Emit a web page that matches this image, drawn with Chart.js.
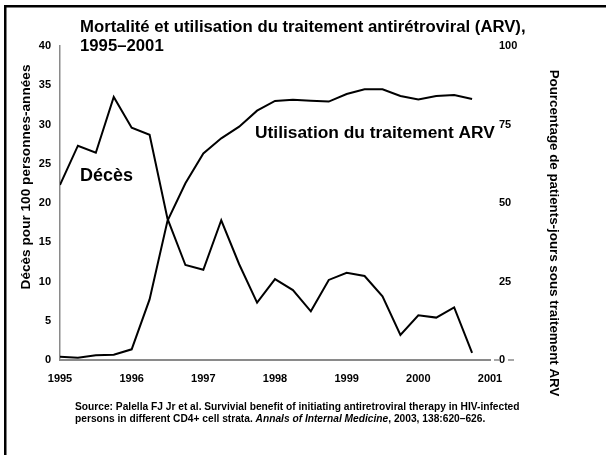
<!DOCTYPE html>
<html>
<head>
<meta charset="utf-8">
<script src="https://cdn.jsdelivr.net/npm/chart.js@4"></script>
<style>
html,body{margin:0;padding:0;background:#fff;}
#wrap{width:606px;height:455px;position:relative;}
</style>
</head>
<body>
<div id="wrap"><canvas id="c" width="606" height="455"></canvas></div>
<script>
// ---- Data ----
const quarters = [1995, 1995.25, 1995.5, 1995.75, 1996, 1996.25, 1996.5, 1996.75,
                  1997, 1997.25, 1997.5, 1997.75, 1998, 1998.25, 1998.5, 1998.75,
                  1999, 1999.25, 1999.5, 1999.75, 2000, 2000.25, 2000.5, 2000.75];
const deathRate = [22.3, 27.3, 26.4, 33.5, 29.6, 28.7, 18.0, 12.1,
                   11.5, 17.8, 12.2, 7.3, 10.3, 8.9, 6.2, 10.2,
                   11.1, 10.7, 8.1, 3.2, 5.7, 5.4, 6.7, 0.9];
const arvUse = [1.0, 0.7, 1.5, 1.7, 3.4, 19.3, 44.3, 56.3,
                65.8, 70.6, 74.3, 79.4, 82.5, 82.9, 82.6, 82.3,
                84.7, 86.2, 86.2, 84.1, 83.0, 84.1, 84.4, 83.1];
const yearTicks = [1995, 1996, 1997, 1998, 1999, 2000, 2001];

const titleLines = ["Mortalité et utilisation du traitement antirétroviral (ARV),", "1995–2001"];
const leftAxisTitle = "Décès pour 100 personnes-années";
const rightAxisTitle = "Pourcentage de patients-jours sous traitement ARV";
const deathLabel = "Décès";
const arvLabel = "Utilisation du traitement ARV";
const sourceLine1 = "Source: Palella FJ Jr et al. Survivial benefit of initiating antiretroviral therapy in HIV-infected";
const sourceLine2 = [["persons in different CD4+ cell strata. ", "normal"], ["Annals of Internal Medicine", "italic"], [", 2003, 138:620–626.", "normal"]];

const FAM = '"Liberation Sans", Arial, Helvetica, sans-serif';
const AXIS_GREY = '#8a8a8a';

function fitSize(ctx, text, style, targetW) {
  ctx.font = style + ' bold 20px ' + FAM;
  return 20 * targetW / ctx.measureText(text).width;
}

const decor = {
  id: 'decor',
  afterDraw(chart) {
    const ctx = chart.ctx;
    ctx.save();
    ctx.fillStyle = '#000';
    // frame (top and left)
    ctx.fillRect(4, 5, 602, 2.5);
    ctx.fillRect(4, 5, 2.5, 450);

    // title
    ctx.textBaseline = 'middle';
    ctx.textAlign = 'left';
    let ts = fitSize(ctx, titleLines[0], 'normal', 446);
    ctx.font = 'bold ' + ts.toFixed(2) + 'px ' + FAM;
    ctx.fillText(titleLines[0], 80, 27);
    ctx.fillText(titleLines[1], 80, 46);

    // series labels
    let ds = fitSize(ctx, deathLabel, 'normal', 53);
    ctx.font = 'bold ' + ds.toFixed(2) + 'px ' + FAM;
    ctx.fillText(deathLabel, 80, 176);
    let as = fitSize(ctx, arvLabel, 'normal', 240);
    ctx.font = 'bold ' + as.toFixed(2) + 'px ' + FAM;
    ctx.fillText(arvLabel, 255, 133);

    // axis titles
    ctx.textAlign = 'center';
    let ls = fitSize(ctx, leftAxisTitle, 'normal', 225);
    ctx.font = 'bold ' + ls.toFixed(2) + 'px ' + FAM;
    ctx.save();
    ctx.translate(26, 177);
    ctx.rotate(-Math.PI / 2);
    ctx.fillText(leftAxisTitle, 0, 0);
    ctx.restore();
    let rs = fitSize(ctx, rightAxisTitle, 'normal', 327);
    ctx.font = 'bold ' + rs.toFixed(2) + 'px ' + FAM;
    ctx.save();
    ctx.translate(554, 233);
    ctx.rotate(Math.PI / 2);
    ctx.fillText(rightAxisTitle, 0, 0);
    ctx.restore();

    // source
    ctx.textAlign = 'left';
    let ss = fitSize(ctx, sourceLine1, 'normal', 445);
    ctx.font = 'bold ' + ss.toFixed(2) + 'px ' + FAM;
    ctx.fillText(sourceLine1, 75, 407);
    let x = 75;
    for (const [txt, st] of sourceLine2) {
      ctx.font = st + ' bold ' + ss.toFixed(2) + 'px ' + FAM;
      ctx.fillText(txt, x, 419);
      x += ctx.measureText(txt).width;
    }

    // right-axis zero tick dashes
    const y0 = chart.scales.y1.getPixelForValue(0);
    ctx.strokeStyle = AXIS_GREY;
    ctx.lineWidth = 1.5;
    ctx.beginPath();
    ctx.moveTo(494, y0); ctx.lineTo(500, y0);
    ctx.moveTo(508, y0); ctx.lineTo(514, y0);
    ctx.stroke();
    ctx.restore();
  }
};

const tickFont = { family: FAM, size: 11, weight: 'bold' };

new Chart(document.getElementById('c'), {
  type: 'line',
  data: {
    datasets: [
      {
        label: deathLabel,
        data: quarters.map((q, i) => ({ x: q, y: deathRate[i] })),
        yAxisID: 'y',
        borderColor: '#000',
        borderWidth: 2,
        pointRadius: 0,
        tension: 0,
        fill: false
      },
      {
        label: arvLabel,
        data: quarters.map((q, i) => ({ x: q, y: arvUse[i] })),
        yAxisID: 'y1',
        borderColor: '#000',
        borderWidth: 2,
        pointRadius: 0,
        tension: 0,
        fill: false
      }
    ]
  },
  options: {
    responsive: false,
    animation: false,
    devicePixelRatio: 1,
    layout: { padding: { top: 46, left: 0, right: 0, bottom: 0 } },
    plugins: { legend: { display: false }, title: { display: false }, tooltip: { enabled: false } },
    scales: {
      x: {
        type: 'linear',
        position: 'bottom',
        min: yearTicks[0],
        max: yearTicks[yearTicks.length - 1],
        afterBuildTicks: (s) => { s.ticks = yearTicks.map(v => ({ value: v })); },
        ticks: { color: '#000', font: tickFont, padding: 12, maxRotation: 0, autoSkip: false,
                 callback: (v) => String(v) },
        grid: { display: false, drawTicks: false },
        border: { display: true, color: AXIS_GREY, width: 2 },
        afterFit: (s) => { s.height = 95; }
      },
      y: {
        type: 'linear',
        position: 'left',
        min: 0, max: 40,
        ticks: { stepSize: 5, color: '#000', font: tickFont, padding: 9 },
        grid: { display: false, drawTicks: false },
        border: { display: true, color: AXIS_GREY, width: 1.5 },
        afterFit: (s) => { s.width = 60; }
      },
      y1: {
        type: 'linear',
        position: 'right',
        min: 0, max: 100,
        ticks: { stepSize: 25, color: '#000', font: tickFont, padding: 9 },
        grid: { display: false, drawTicks: false },
        border: { display: false },
        afterFit: (s) => { s.width = 116; }
      }
    }
  },
  plugins: [decor]
});
</script>
</body>
</html>
